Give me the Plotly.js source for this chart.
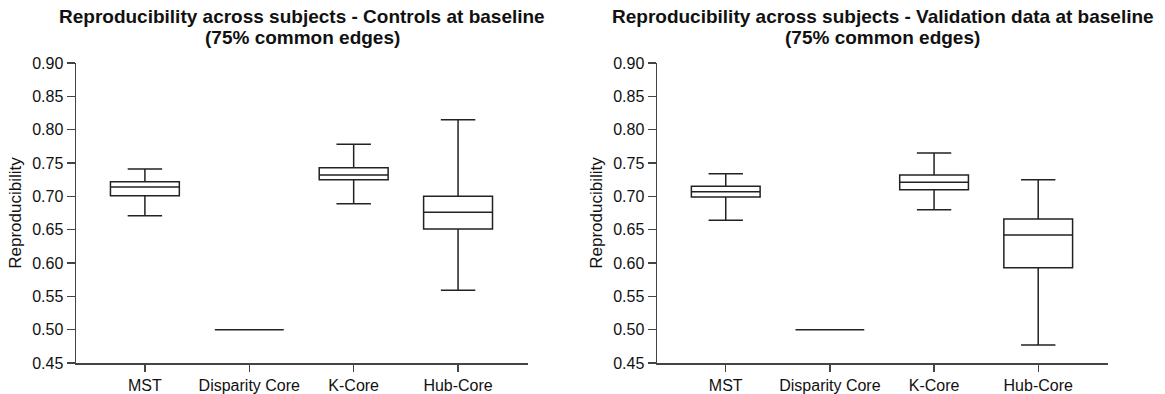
<!DOCTYPE html>
<html>
<head>
<meta charset="utf-8">
<script src="https://cdn.plot.ly/plotly-3.0.1.min.js"></script>
<style>html,body{margin:0;padding:0;background:#fff;}#chart{width:1165px;height:394px;}</style>
</head>
<body>
<div id="chart"></div>
<script>
const categories = ["MST", "Disparity Core", "K-Core", "Hub-Core"];

// Controls at baseline
const ctrlLower  = [0.671, 0.500, 0.689, 0.559];
const ctrlQ1     = [0.701, 0.500, 0.725, 0.651];
const ctrlMedian = [0.714, 0.500, 0.732, 0.676];
const ctrlQ3     = [0.722, 0.500, 0.743, 0.700];
const ctrlUpper  = [0.741, 0.500, 0.778, 0.815];

// Validation data at baseline
const valLower  = [0.664, 0.500, 0.680, 0.477];
const valQ1     = [0.699, 0.500, 0.710, 0.593];
const valMedian = [0.707, 0.500, 0.721, 0.642];
const valQ3     = [0.715, 0.500, 0.732, 0.666];
const valUpper  = [0.734, 0.500, 0.765, 0.725];

const yTicks = [0.45, 0.50, 0.55, 0.60, 0.65, 0.70, 0.75, 0.80, 0.85, 0.90];
const titleLine1 = [
  "Reproducibility across subjects - Controls at baseline",
  "Reproducibility across subjects - Validation data at baseline"
];
const titleLine2 = ["(75% common edges)", "(75% common edges)"];
const yTitle = "Reproducibility";

const FONT = "Liberation Sans, Arial, sans-serif";
const lineCol = "#222";

function boxTrace(lo, q1, med, q3, up, xa, ya) {
  return {
    type: "box",
    x: categories,
    lowerfence: lo, q1: q1, median: med, q3: q3, upperfence: up,
    xaxis: xa, yaxis: ya,
    width: 0.66,
    whiskerwidth: 0.5,
    fillcolor: "rgba(255,255,255,0)",
    line: {color: lineCol, width: 1.5},
    boxpoints: false,
    showlegend: false,
    hoverinfo: "skip"
  };
}

const data = [
  boxTrace(ctrlLower, ctrlQ1, ctrlMedian, ctrlQ3, ctrlUpper, "x", "y"),
  boxTrace(valLower, valQ1, valMedian, valQ3, valUpper, "x2", "y2")
];

function xAxis(domain, anchor) {
  return {
    domain: domain, anchor: anchor,
    type: "category", categoryorder: "array", categoryarray: categories,
    range: [-0.66, 3.67],
    showgrid: false, zeroline: false,
    showline: true, linecolor: "#444", linewidth: 1.5,
    ticks: "outside", ticklen: 7, tickwidth: 1.3, tickcolor: "#444",
    tickfont: {family: FONT, size: 16, color: "#111"},
    fixedrange: true
  };
}
function yAxis(anchor) {
  return {
    anchor: anchor, domain: [0, 1],
    range: [0.45, 0.90],
    tickvals: yTicks,
    tickformat: ".2f",
    showgrid: false, zeroline: false,
    showline: true, linecolor: "#444", linewidth: 1.5,
    ticks: "outside", ticklen: 8, tickwidth: 1.3, tickcolor: "#444",
    tickfont: {family: FONT, size: 16, color: "#111"},
    title: {text: yTitle, font: {family: FONT, size: 17, color: "#111"}, standoff: 6},
    fixedrange: true
  };
}

const centers = [(76 + 528) / 2 / 1165, (657 + 1108) / 2 / 1165];
const annotations = [];
for (let i = 0; i < 2; i++) {
  annotations.push({text: "<b>" + titleLine1[i] + "</b>", xref: "paper", yref: "paper",
    x: centers[i], y: (363 - 16.5) / 300, xanchor: "center", yanchor: "middle",
    showarrow: false, font: {family: FONT, size: 19, color: "#111"}});
  annotations.push({text: "<b>" + titleLine2[i] + "</b>", xref: "paper", yref: "paper",
    x: centers[i], y: (363 - 37.5) / 300, xanchor: "center", yanchor: "middle",
    showarrow: false, font: {family: FONT, size: 19, color: "#111"}});
}

const layout = {
  width: 1165, height: 394,
  margin: {l: 0, r: 0, t: 63, b: 31},
  paper_bgcolor: "#fff", plot_bgcolor: "#fff",
  font: {family: FONT, color: "#111"},
  xaxis: xAxis([76/1165, 528/1165], "y"),
  yaxis: yAxis("x"),
  xaxis2: xAxis([657/1165, 1108/1165], "y2"),
  yaxis2: yAxis("x2"),
  annotations: annotations
};

Plotly.newPlot("chart", data, layout, {displayModeBar: false, staticPlot: true});
</script>
</body>
</html>
